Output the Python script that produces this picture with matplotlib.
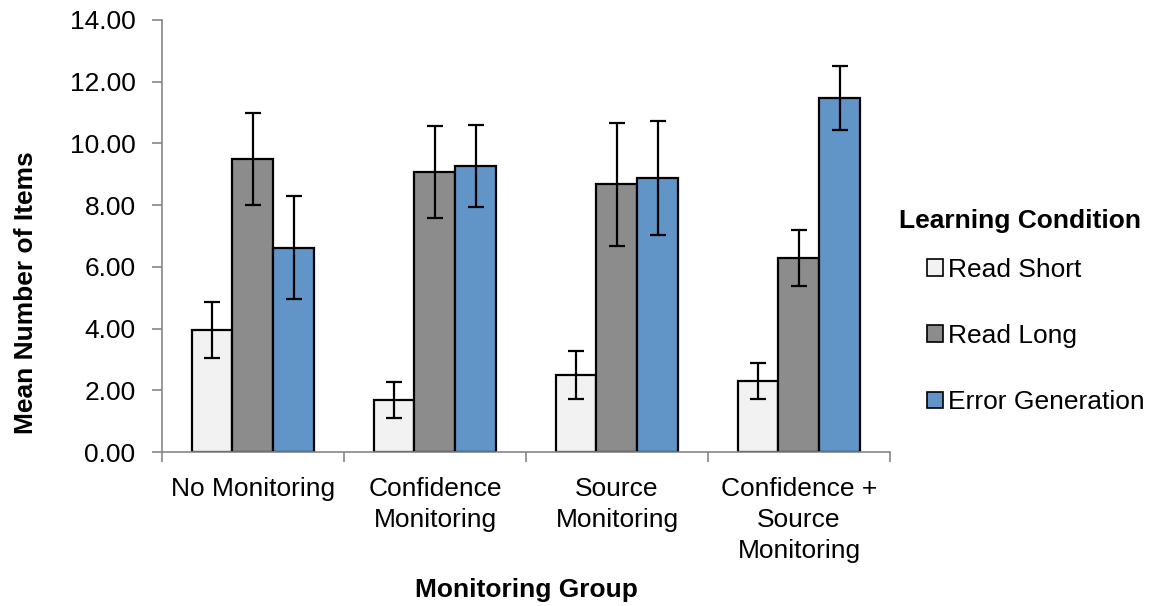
import numpy as np
import matplotlib.pyplot as plt
from matplotlib.patches import Patch

plt.rcParams['font.family'] = ['Liberation Sans', 'DejaVu Sans']

groups = ["No Monitoring", "Confidence\nMonitoring", "Source\nMonitoring",
          "Confidence +\nSource\nMonitoring"]
conditions = ["Read Short", "Read Long", "Error Generation"]
colors = ["#f2f2f2", "#8c8c8c", "#6195c8"]

read_short = [3.95, 1.70, 2.50, 2.30]
read_long = [9.49, 9.08, 8.67, 6.30]
error_gen = [6.62, 9.28, 8.88, 11.47]

read_short_err = [0.90, 0.58, 0.78, 0.59]
read_long_err = [1.50, 1.48, 1.99, 0.91]
error_gen_err = [1.67, 1.33, 1.84, 1.03]

means = [read_short, read_long, error_gen]
errs = [read_short_err, read_long_err, error_gen_err]

fig = plt.figure(figsize=(11.51, 6.06), dpi=100)
ax = fig.add_axes([0.1407, 0.254, 0.6325, 0.713])

x = np.arange(len(groups))
w = 0.225
for i in range(3):
    ax.bar(x + (i - 1) * w, means[i], w, color=colors[i], edgecolor="black",
           linewidth=1.6, label=conditions[i], zorder=2)
    ax.errorbar(x + (i - 1) * w, means[i], yerr=errs[i], fmt="none",
                ecolor="black", elinewidth=1.6, capsize=6, capthick=1.6, zorder=3)

ax.set_xlim(-0.5, len(groups) - 0.5)
ax.set_ylim(0, 14)
ax.set_yticks(np.arange(0, 14.01, 2))
ax.set_yticklabels([f"{v:.2f}" for v in np.arange(0, 14.01, 2)])
ax.set_xticks(x)
ax.set_xticklabels(groups, linespacing=1.37)
ax.set_xticks(np.arange(-0.5, len(groups), 1), minor=True)
ax.tick_params(axis="x", which="major", length=0, pad=18, labelsize=19)
ax.tick_params(axis="x", which="minor", length=7, color="#868686", width=1.2)
ax.tick_params(axis="y", length=7, color="#868686", width=1.2, labelsize=19, pad=12)

for s in ["top", "right"]:
    ax.spines[s].set_visible(False)
for s in ["left", "bottom"]:
    ax.spines[s].set_color("#868686")
    ax.spines[s].set_linewidth(1.2)

ax.set_ylabel("Mean Number of Items", fontsize=19, fontweight="bold")
ax.yaxis.set_label_coords(-0.170, 0.37)
ax.set_xlabel("Monitoring Group", fontsize=19, fontweight="bold", labelpad=11)

# legend: title placed separately so the gap matches the original
fig.text(1020 / 1151, 1 - 221 / 606, "Learning Condition", fontsize=19,
         fontweight="bold", ha="center", va="center")
handles = [Patch(facecolor=c, edgecolor="black", linewidth=1.2) for c in colors]
leg = fig.legend(handles, conditions, frameon=False, loc="center left",
                 bbox_to_anchor=(927 / 1151, 1 - 336 / 606), fontsize=19,
                 handlelength=0.6, handleheight=0.6, handletextpad=0.2,
                 labelspacing=1.6, borderaxespad=0, borderpad=0)

fig.savefig("out.png", dpi=100)
